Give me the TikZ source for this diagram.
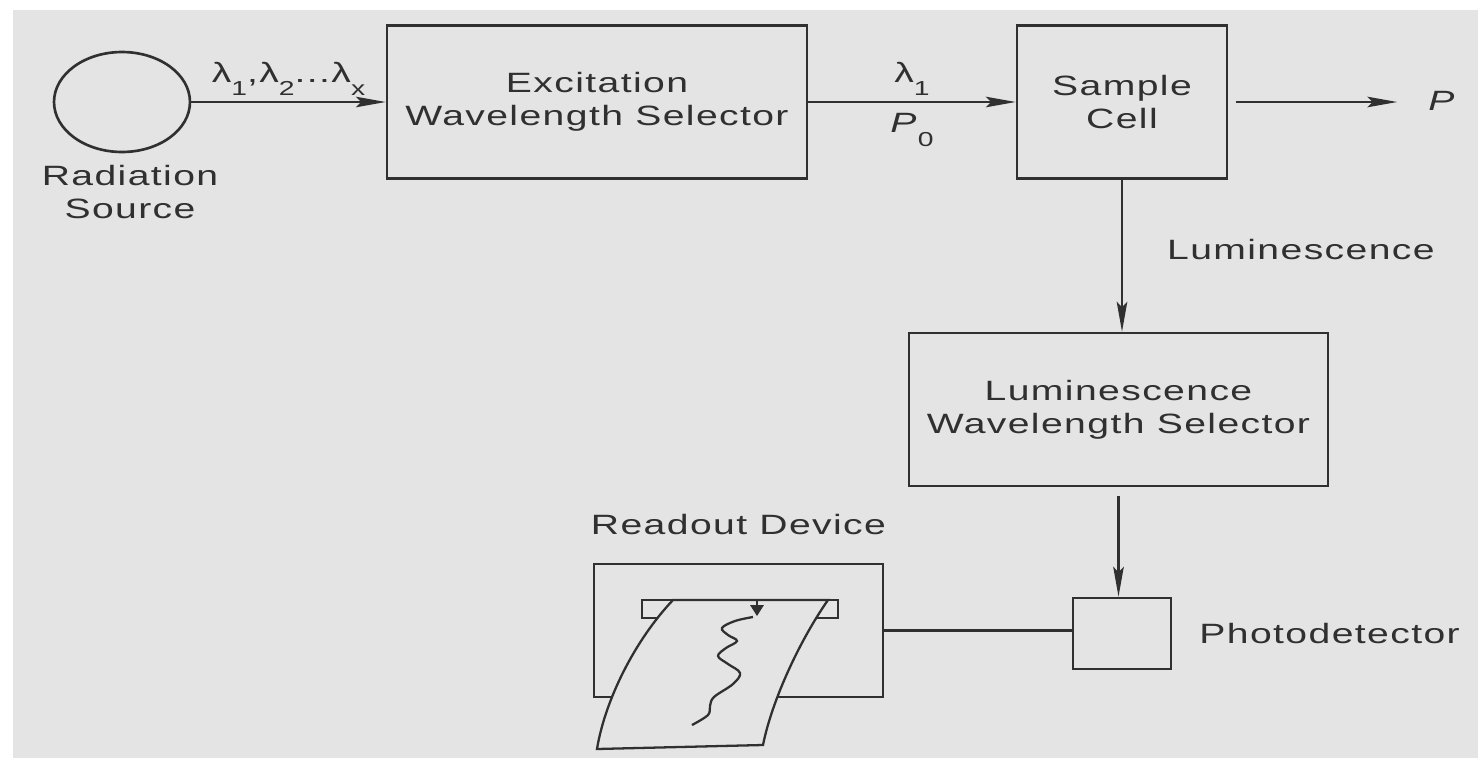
\documentclass[tikz,border=0pt]{standalone}
\usepackage{fontspec}
\setmainfont{Liberation Sans}[FakeStretch=1.4,LetterSpace=5]
\usetikzlibrary{shapes.geometric, positioning, calc, arrows.meta}

\definecolor{ink}{HTML}{303030}
\definecolor{paperbg}{HTML}{E4E4E4}
\newcommand{\lsub}[1]{\raisebox{-7.5pt}{\fontsize{11.5}{11.5}\selectfont #1}}

\begin{document}
\begin{tikzpicture}[x=0.02cm, y=-0.02cm, line width=1.3pt, color=ink, font=\fontsize{15.9}{19}\selectfont]
        \tikzstyle{blk}=[draw, rectangle, align=center, inner sep=0pt, line width=1.5pt];
        \tikzstyle{lbl}=[align=center, inner sep=0pt];
        \tikzstyle{arr}=[-{Stealth[length=17pt, width=6pt, inset=3pt]}];

        \useasboundingbox (0,0) rectangle (1478,758);
        \fill[paperbg] (13,10) rectangle (1478,758);

        \node[draw, ellipse, line width=1.5pt, minimum width=2.72cm, minimum height=2cm, inner sep=0pt] (src) at (122,102) {};
        \node[lbl] (srclbl) at (130,192) {Radiation\\Source};
        \node[blk, minimum width=8.4cm, minimum height=3.06cm] (exc) at (597,102) {Excitation\\Wavelength Selector};
        \node[blk, minimum width=4.2cm, minimum height=3.06cm] (cell) at (1122,102) {Sample\\Cell};
        \node[lbl] (pout) at (1442,101) {\textit{P}};
        \node[blk, minimum width=8.38cm, minimum height=3.06cm] (lum) at (1118.5,409.5) {Luminescence\\Wavelength Selector};
        \node[lbl, anchor=west] (lumlbl) at (1166,250) {Luminescence};
        \node[blk, minimum width=1.96cm, minimum height=1.42cm] (pd) at (1122,633.5) {};
        \node[lbl, right=0.52cm of pd] (pdlbl) {Photodetector};
        \node[blk, minimum width=5.78cm, minimum height=2.66cm] (rdo) at (738.5,630.5) {};
        \node[lbl, above=0.54cm of rdo] (rdolbl) {Readout Device};

        \path[arr]
        (src) edge node[lbl, above=3pt] {λ\lsub{1},λ\lsub{2}...λ\lsub{x}} (exc)
        (exc) edge node[lbl, above=3pt] {λ\lsub{1}} node[lbl, below=6pt] {\textit{P}\lsub{0}} (cell)
        (cell.south) edge (cell.south |- lum.north);
        \draw[arr, shorten <=4.5pt, shorten >=17pt] (cell.east) -- (cell.east -| pout.west);
        \draw[arr] ($(lum.south)+(0,9)$) -- (lum.south |- pd.north);
        \draw (rdo.east) -- (rdo.east -| pd.west);

        % chart paper with pen trace
        \draw (642,600) rectangle (838,618);
        \draw[fill=paperbg] (673,600) -- (828,600) .. controls (800,640) and (772,700) .. (763,745)
          -- (597,749) .. controls (605,700) and (635,640) .. (673,600) -- cycle;
        \draw (757,600) -- (757,606);
        \fill (750,605) -- (764,605) -- (757,616) -- cycle;
        \draw plot[smooth, tension=0.6] coordinates {(753,617) (735,621) (722,628) (728,635) (737,641) (726,648) (718,656) (728,664) (740,673) (733,684) (714,697) (710,706) (708,715) (692,725)};
\end{tikzpicture}
\end{document}
